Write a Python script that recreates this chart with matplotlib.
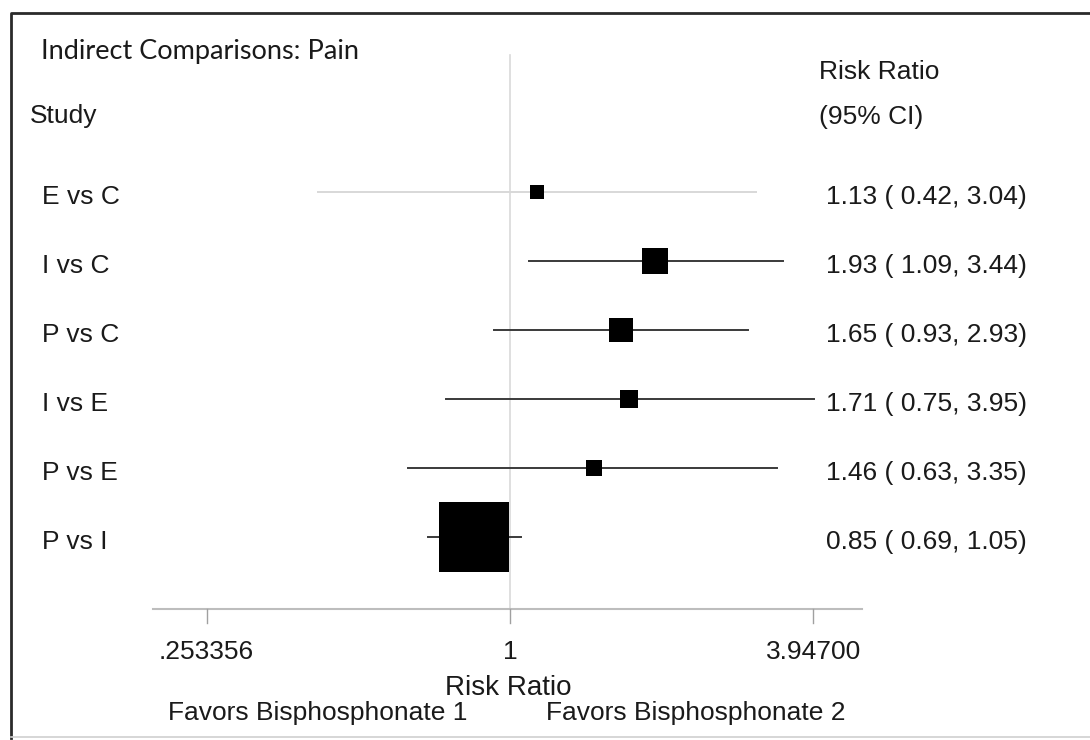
import numpy as np
import matplotlib
matplotlib.use("Agg")
import matplotlib.pyplot as plt
from matplotlib.lines import Line2D

plt.rcParams['font.family'] = ['Liberation Sans', 'DejaVu Sans']

# indirect comparisons, risk ratio with 95% CI
studies = ['E vs C', 'I vs C', 'P vs C', 'I vs E', 'P vs E', 'P vs I']
rr = [1.13, 1.93, 1.65, 1.71, 1.46, 0.85]
ci_low = [0.42, 1.09, 0.93, 0.75, 0.63, 0.69]
ci_high = [3.04, 3.44, 2.93, 3.95, 3.35, 1.05]
weights = [2.8, 9.6, 8.9, 4.6, 4.1, 69.9]   # relative weight, %
xticks = [0.253356, 1, 3.947]
xticklabels = ['.253356', '1', '3.94700']

W, H = 1090, 740
fig = plt.figure(figsize=(W / 100, H / 100), dpi=100)
ax = fig.add_axes([0, 0, 1, 1])
ax.set_xscale('log')

# pixel layout: x = 510 + 221*ln(x), rows 69 px apart starting at 192
x0, kx = 510, 221
y0, ky = 192, 69
ax.set_xlim(np.exp((0 - x0) / kx), np.exp((W - x0) / kx))
ax.set_ylim((H - y0) / ky, (0 - y0) / ky)
ax.axis('off')

def px(x, y):
    return x / W, 1 - y / H

txt = '#1a1a1a'
rows = np.arange(len(studies))
axis_row = 6.04

# null line at RR = 1
ax.plot([1, 1], [(55 - y0) / ky, axis_row], color='#d9d9d9', lw=1.2, zorder=1)

# x axis
ax.plot([np.exp((153 - x0) / kx), np.exp((862 - x0) / kx)], [axis_row, axis_row],
        color='#bdbdbd', lw=1.5, zorder=1)
for t, lab in zip(xticks, xticklabels):
    ax.plot([t, t], [axis_row, axis_row + 0.2], color='#a0a0a0', lw=1.0)
    ax.text(t, axis_row + 0.62, lab, ha='center', va='center', fontsize=19, color=txt)

max_w = max(weights)
for i, (lab, r, lo, hi, w) in enumerate(zip(studies, rr, ci_low, ci_high, weights)):
    line_col = '#d8d8d8' if i == 0 else '#3a3a3a'
    ax.plot([lo, hi], [i, i], color=line_col, lw=1.4, zorder=2)
    side_px = 70 * np.sqrt(w / max_w)
    ax.plot([r], [i], marker='s', markersize=side_px * 0.72, color='black',
            markeredgewidth=0, zorder=3)
    fig.text(*px(42, y0 + ky * i + 5), lab, ha='left', va='center', fontsize=19, color=txt)
    fig.text(*px(826, y0 + ky * i + 5), f"{r:.2f} ({lo:5.2f}, {hi:.2f})",
             ha='left', va='center', fontsize=19, color=txt)

# headers
fig.text(*px(41, 52), 'Indirect Comparisons: Pain', ha='left', va='center',
         fontsize=19.5, family=['Lato', 'DejaVu Sans'], color=txt)
fig.text(*px(30, 116), 'Study', ha='left', va='center', fontsize=19, color=txt)
fig.text(*px(819, 72), 'Risk Ratio', ha='left', va='center', fontsize=19, color=txt)
fig.text(*px(819, 117), '(95% CI)', ha='left', va='center', fontsize=19, color=txt)

# axis title and direction labels
fig.text(*px(508, 688), 'Risk Ratio', ha='center', va='center', fontsize=20, color=txt)
fig.text(*px(318, 713), 'Favors Bisphosphonate 1', ha='center', va='center', fontsize=19, color=txt)
fig.text(*px(696, 713), 'Favors Bisphosphonate 2', ha='center', va='center', fontsize=19, color=txt)

# outer frame: dark left and top edges, faint bottom edge
fig.lines.append(Line2D([11 / W, 11 / W, 1], [1 - 738 / H, 1 - 13 / H, 1 - 13 / H],
                        transform=fig.transFigure, color='#2a2a2a', lw=2.0))
fig.lines.append(Line2D([11 / W, 1], [1 - 737 / H, 1 - 737 / H],
                        transform=fig.transFigure, color='#d0d0d0', lw=1.2))

fig.savefig('out.png', dpi=100)
